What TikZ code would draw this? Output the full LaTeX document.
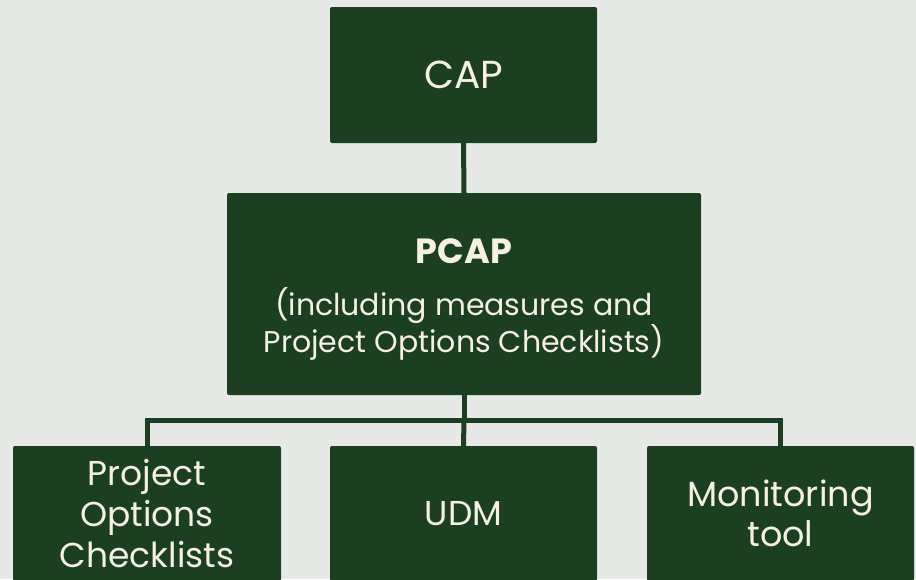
\documentclass[tikz,border=0pt]{standalone}
\usepackage{fontspec}
\setmainfont{Poppins}
\definecolor{bg}{HTML}{E7E9E6}
\definecolor{boxgreen}{HTML}{1C3F22}
\definecolor{cream}{HTML}{F5F0E1}
\begin{document}
\begin{tikzpicture}[x=1pt,y=-1pt,
  box/.style={fill=boxgreen, rounded corners=2pt, text=cream, align=center, inner sep=0pt, anchor=center},
  link/.style={draw=boxgreen, line width=5pt}]
\fill[bg] (0,0) rectangle (916,579);
\useasboundingbox (0,0) rectangle (916,579);
\node[box, minimum width=267pt, minimum height=136pt, font=\fontsize{39}{40}\selectfont] (cap) at (463.5,75) {CAP};
\node[box, minimum width=474pt, minimum height=202pt] (pcap) at (464,294) {};
\node[text=cream, align=center, inner sep=0pt, font=\fontsize{30}{37}\selectfont] (pcaptext) at (464,299)
  {\fontsize{35}{37}\selectfont\bfseries PCAP\\[15pt]
   (including measures and\\Project Options Checklists)};
\node[box, minimum width=268pt, minimum height=135pt, font=\fontsize{34.5}{41}\selectfont] (poc) at (147,513.5) {Project\\Options\\Checklists};
\node[box, minimum width=267pt, minimum height=135pt, font=\fontsize{34.5}{40}\selectfont] (udm) at (463.5,513.5) {UDM};
\node[box, minimum width=267pt, minimum height=135pt, font=\fontsize{35}{40}\selectfont] (mon) at (780.5,513.5) {Monitoring\\tool};
\coordinate (bus) at (464,420.5);
\draw[link] (cap.south) -- (pcap.north);
\draw[link] (pcap.south) -- (bus);
\draw[link] (bus) -| (poc.north);
\draw[link] (bus) -- (udm.north);
\draw[link] (bus) -| (mon.north);
\end{tikzpicture}
\end{document}
